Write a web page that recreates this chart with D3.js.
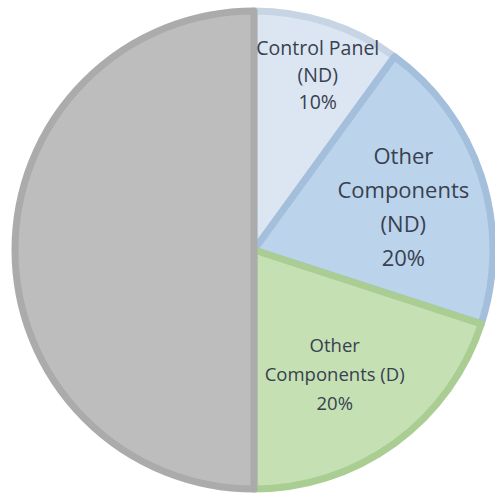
<!DOCTYPE html>
<html lang="en">
<head>
<meta charset="utf-8">
<script src="https://cdn.jsdelivr.net/npm/d3@7"></script>
<style>
  body { margin: 0; background: #fff; }
  text { font-family: "Open Sans", sans-serif; fill: #384150; }
</style>
</head>
<body>
<script>
// slice data, clockwise from 12 o'clock
var labels = [["Control Panel", "(ND)", "10%"],
              ["Other", "Components", "(ND)", "20%"],
              ["Other", "Components (D)", "20%"],
              []];
var values = [10, 20, 20, 50];
var fills = ["#dce6f2", "#bcd4eb", "#c5e0b3", "#bdbdbd"];
var strokes = ["#c6d4e4", "#a4bfdb", "#aacd93", "#ababab"];

// label layout
var fontSizes = [19.5, 22, 18.5, 18];
var lineH = [27, 34, 29, 28];
var labelR = [0.78, 0.65, 0.62, 0.6];
var labelShift = [2, 2, 3, 0]; // degrees, clockwise

var w = 495, h = 495;
var cx = 254, cy = 250, r = 239;

var svg = d3.select("body").append("svg")
  .attr("width", w).attr("height", h);

var pie = d3.pie().sort(null).value(function(d) { return d; });
var arcs = pie(values);
var arc = d3.arc().innerRadius(0).outerRadius(r);

var g = svg.append("g").attr("transform", "translate(" + cx + "," + cy + ")");

g.selectAll("path")
  .data(arcs)
  .enter()
  .append("path")
  .attr("d", arc)
  .attr("fill", function(d, i) { return fills[i]; })
  .attr("stroke", function(d, i) { return strokes[i]; })
  .attr("stroke-width", 7)
  .attr("stroke-linejoin", "round");

var lbl = g.selectAll("g.lbl")
  .data(arcs)
  .enter()
  .append("g")
  .attr("class", "lbl")
  .attr("transform", function(d, i) {
    var a = (d.startAngle + d.endAngle) / 2 + labelShift[i] * Math.PI / 180;
    var rr = r * labelR[i];
    return "translate(" + (Math.sin(a) * rr) + "," + (-Math.cos(a) * rr) + ")";
  });

lbl.each(function(d, i) {
  var lines = labels[i];
  var fs = fontSizes[i];
  var lh = lineH[i];
  var t = d3.select(this).append("text")
    .attr("text-anchor", "middle")
    .attr("font-size", fs + "px");
  lines.forEach(function(s, j) {
    t.append("tspan")
      .attr("x", 0)
      .attr("y", (j - (lines.length - 1) / 2) * lh)
      .attr("dy", "0.35em")
      .text(s);
  });
});
</script>
</body>
</html>
